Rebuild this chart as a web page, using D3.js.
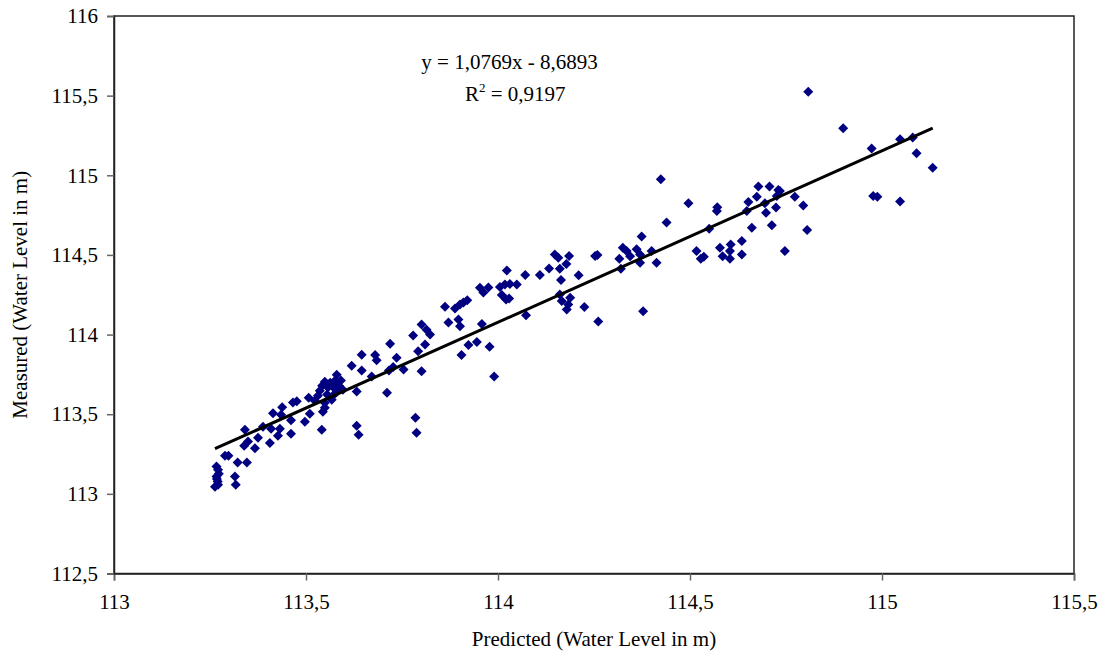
<!DOCTYPE html>
<html>
<head>
<meta charset="utf-8">
<script src="https://cdn.jsdelivr.net/npm/d3@7"></script>
<style>
  body { margin: 0; background: #fff; }
  svg { font-family: "Liberation Serif", "Times New Roman", serif; }
</style>
</head>
<body>
<svg id="chart" width="1108" height="657"></svg>
<script>
// Predicted vs measured water level (m)
const predicted = [
  113.267, 113.271, 113.267, 113.270, 113.271, 113.263, 113.273, 113.268, 113.315, 113.317,
  113.289, 113.298, 113.322, 113.346, 113.341, 113.349, 113.339, 113.367, 113.375, 113.406,
  113.388, 113.409, 113.414, 113.438, 113.435, 113.427, 113.432, 113.461, 113.461, 113.466,
  113.476, 113.497, 113.507, 113.510, 113.541, 113.544, 113.549, 113.549, 113.567,
  113.531, 113.536, 113.542, 113.549, 113.557, 113.563, 113.570, 113.576, 113.581, 113.586,
  113.591, 113.596, 113.555, 113.573, 113.523,
  113.580, 113.619, 113.645, 113.645, 113.632, 113.632, 113.637, 113.671, 113.680, 113.684,
  113.711, 113.719, 113.716, 113.736, 113.727, 113.754, 113.779, 113.785, 113.788, 113.801,
  113.814, 113.823, 113.810, 113.792, 113.801, 113.862, 113.871, 113.888, 113.901, 113.910,
  113.920, 113.897, 113.901, 113.905, 113.923, 113.945, 113.958, 113.978, 113.990, 113.953,
  113.962, 113.975, 114.005, 114.010, 114.018, 114.031, 114.049, 114.021, 114.029, 114.023,
  114.071, 114.073, 114.109, 114.133, 114.148, 114.157, 114.185, 114.178, 114.161, 114.164,
  114.161, 114.166, 114.188, 114.183, 114.179, 114.210, 114.225, 114.253, 114.259, 114.261,
  114.378, 114.316, 114.320, 114.325, 114.335, 114.344, 114.361, 114.370, 114.370, 114.374,
  114.400, 114.413, 114.424, 114.439, 114.496, 114.517, 114.528, 114.536, 114.550, 114.570,
  114.571, 114.578, 114.585, 114.606, 114.604, 114.604, 114.635, 114.635, 114.652, 114.648,
  114.661, 114.674, 114.678, 114.707, 114.695, 114.698, 114.730, 114.726, 114.724, 114.713,
  114.747, 114.773, 114.795, 114.805, 114.808, 114.899, 114.973, 115.047, 115.080, 115.090,
  115.132, 114.977, 114.988, 115.047, 114.734
]
const measured = [
  113.172, 113.151, 113.109, 113.077, 113.057, 113.044, 113.126, 113.094, 113.109, 113.057,
  113.239, 113.239, 113.197, 113.197, 113.403, 113.329, 113.302, 113.287, 113.352, 113.319,
  113.421, 113.409, 113.506, 113.544, 113.497, 113.365, 113.409, 113.377, 113.462, 113.574,
  113.581, 113.453, 113.604, 113.503, 113.403, 113.516, 113.541, 113.572, 113.591,
  113.616, 113.648, 113.679, 113.704, 113.667, 113.698, 113.673, 113.711, 113.642, 113.679,
  113.711, 113.654, 113.623, 113.623, 113.585,
  113.748, 113.805, 113.874, 113.774, 113.642, 113.428, 113.371, 113.736, 113.871, 113.838,
  113.635, 113.943, 113.774, 113.855, 113.796, 113.780, 113.994, 113.478, 113.384, 114.063,
  114.031, 114.000, 113.937, 113.895, 113.769, 114.174, 114.075, 114.164, 114.189, 114.201,
  114.216, 114.094, 114.052, 113.871, 113.934, 113.953, 114.066, 113.923, 113.736, 114.294,
  114.264, 114.296, 114.299, 114.248, 114.314, 114.318, 114.314, 114.220, 114.226, 114.403,
  114.374, 114.121, 114.374, 114.415, 114.503, 114.482, 114.494, 114.443, 114.413, 114.342,
  114.252, 114.211, 114.231, 114.189, 114.157, 114.373, 114.173, 114.494, 114.500, 114.082,
  114.147, 114.476, 114.413, 114.545, 114.524, 114.492, 114.535, 114.503, 114.451, 114.615,
  114.524, 114.451, 114.975, 114.703, 114.824, 114.524, 114.476, 114.489, 114.665, 114.775,
  114.799, 114.545, 114.492, 114.566, 114.524, 114.476, 114.587, 114.503, 114.832, 114.775,
  114.671, 114.866, 114.929, 114.929, 114.824, 114.765, 114.908, 114.870, 114.797, 114.686,
  114.524, 114.866, 114.811, 114.656, 115.524, 115.296, 115.168, 115.226, 115.237, 115.138,
  115.048, 114.870, 114.866, 114.835, 114.901
]

// trend line as printed on the chart
const slope = 1.0769
const intercept = -8.6893
const r2 = 0.9197

const xTicks = [113, 113.5, 114, 114.5, 115, 115.5]
const yTicks = [112.5, 113, 113.5, 114, 114.5, 115, 115.5, 116]

const svg = d3.select("#chart")
const margin = { top: 16, left: 114, right: 34, bottom: 83.5 }
const w = 1108 - margin.left - margin.right
const h = 657 - margin.top - margin.bottom

const x = d3.scaleLinear().domain([113, 115.5]).range([0, w])
const y = d3.scaleLinear().domain([112.5, 116]).range([h, 0])

const fmt = (d) => String(d).replace(".", ",")

const g = svg.append("g").attr("transform", `translate(${margin.left},${margin.top})`)

// frame
g.append("rect")
  .attr("width", w)
  .attr("height", h)
  .attr("fill", "none")
  .attr("stroke", "#222")
  .attr("stroke-width", 1.5)

const xAxis = g.append("g")
  .attr("transform", `translate(0,${h})`)
  .call(d3.axisBottom(x).tickValues(xTicks).tickFormat(fmt).tickSize(7).tickPadding(14))
const yAxis = g.append("g")
  .call(d3.axisLeft(y).tickValues(yTicks).tickFormat(fmt).tickSize(7).tickPadding(9))

;[xAxis, yAxis].forEach((a) => {
  a.select(".domain").attr("stroke", "#222").attr("stroke-width", 1.5)
  a.selectAll(".tick line").attr("stroke", "#666").attr("stroke-width", 1.5)
  a.selectAll("text")
    .attr("fill", "#000")
    .style("font-family", "'Liberation Serif', serif")
    .style("font-size", "21px")
})

// points
const pts = predicted.map((p, i) => ({ p: p, m: measured[i] }))
const diamond = d3.symbol().type(d3.symbolSquare).size(50)
g.selectAll(".pt")
  .data(pts)
  .enter()
  .append("path")
  .attr("class", "pt")
  .attr("d", diamond)
  .attr("transform", (d) => `translate(${x(d.p)},${y(d.m)}) rotate(45)`)
  .attr("fill", "#000080")

// trend line over the range of the predictions
const ext = d3.extent(predicted)
g.append("line")
  .attr("x1", x(ext[0]))
  .attr("y1", y(slope * ext[0] + intercept))
  .attr("x2", x(ext[1]))
  .attr("y2", y(slope * ext[1] + intercept))
  .attr("stroke", "#000")
  .attr("stroke-width", 3)

// equation label
g.append("text")
  .attr("x", x(114.03))
  .attr("y", y(115.67))
  .attr("text-anchor", "middle")
  .style("font-size", "21px")
  .text(`y = ${fmt(slope)}x - ${fmt(-intercept)}`)

const rt = g.append("text")
  .attr("x", x(114.045))
  .attr("y", y(115.465))
  .attr("text-anchor", "middle")
  .style("font-size", "21px")
rt.append("tspan").text("R")
rt.append("tspan").attr("dy", -9).style("font-size", "13px").text("2")
rt.append("tspan").attr("dy", 9).text(` = ${fmt(r2)}`)

// axis titles
svg.append("text")
  .attr("x", margin.left + w / 2)
  .attr("y", 646)
  .attr("text-anchor", "middle")
  .style("font-size", "21px")
  .text("Predicted (Water Level in m)")

svg.append("text")
  .attr("transform", `translate(27,${margin.top + h / 2}) rotate(-90)`)
  .attr("text-anchor", "middle")
  .style("font-size", "21px")
  .text("Measured (Water Level in m)")
</script>
</body>
</html>
